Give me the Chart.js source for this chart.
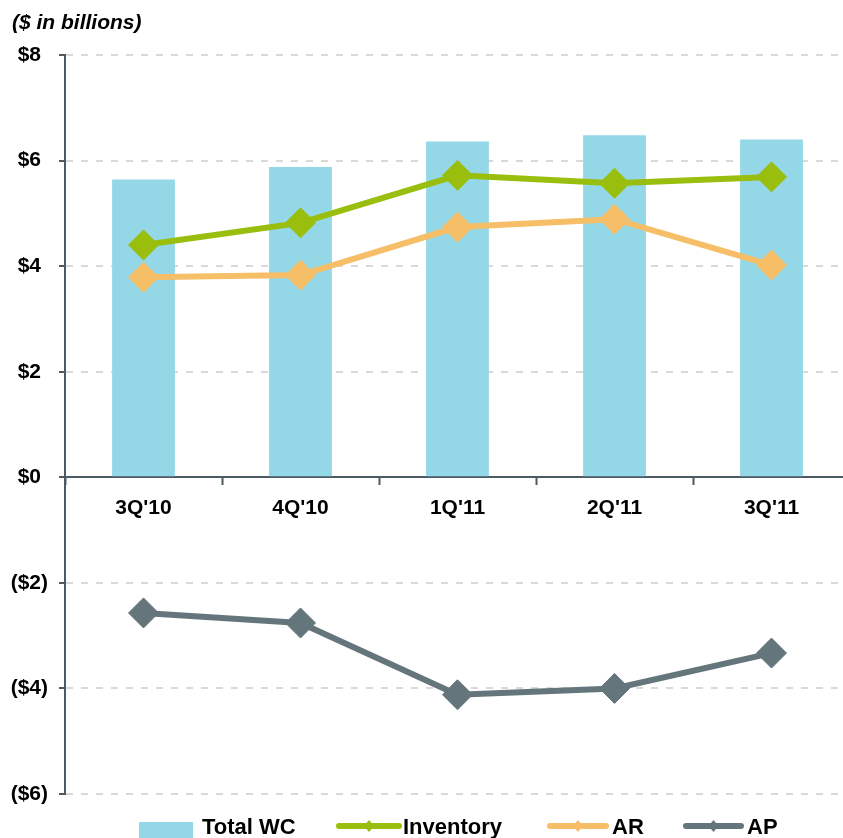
<!DOCTYPE html>
<html>
<head>
<meta charset="utf-8">
<script src="https://cdn.jsdelivr.net/npm/chart.js@4"></script>
<style>
html,body{margin:0;padding:0;overflow:hidden;background:#fff}
#wrap{position:relative;width:866px;height:838px}
</style>
</head>
<body>
<div id="wrap"><canvas id="c" width="866" height="838"></canvas></div>
<script>
const categories = ["3Q'10", "4Q'10", "1Q'11", "2Q'11", "3Q'11"];
const totalWC   = [5.64, 5.88, 6.36, 6.48, 6.40];
const inventory = [4.40, 4.82, 5.72, 5.57, 5.69];
const ar        = [3.79, 3.83, 4.74, 4.89, 4.02];
const ap        = [-2.57, -2.76, -4.12, -4.00, -3.33];
const yTicks    = [-6, -4, -2, 0, 2, 4, 6, 8];
const seriesNames = ['Total WC', 'Inventory', 'AR', 'AP'];
const chartTitle = '($ in billions)';

const C_BAR = '#94D8E8', C_INV = '#99BE0E', C_AR = '#F5BE67', C_AP = '#64757C';
const C_AXIS = '#4B5A63', C_GRID = '#D9D9D9';
const FONT = '"Liberation Sans", Arial, Helvetica, sans-serif';

function fmt(v) { return v < 0 ? '($' + (-v) + ')' : '$' + v; }

const overlay = {
  id: 'overlay',
  afterDraw(chart) {
    const ctx = chart.ctx;
    ctx.save();
    ctx.fillStyle = '#000';
    ctx.textAlign = 'left';
    ctx.textBaseline = 'alphabetic';
    ctx.font = 'italic bold 21px ' + FONT;
    ctx.fillText(chartTitle, 12, 29);

    const ty = 828, ly = 826;
    ctx.font = 'bold 22px ' + FONT;
    ctx.textBaseline = 'middle';
    ctx.fillStyle = C_BAR;
    ctx.fillRect(139, 822, 54, 16);
    ctx.fillStyle = '#000';
    ctx.fillText(seriesNames[0], 202, ty);
    const lineItems = [
      {x0: 339, x1: 399, tx: 403, c: C_INV, n: seriesNames[1]},
      {x0: 550, x1: 606, tx: 612, c: C_AR, n: seriesNames[2]},
      {x0: 686, x1: 741, tx: 747, c: C_AP, n: seriesNames[3]}
    ];
    for (const it of lineItems) {
      ctx.strokeStyle = it.c;
      ctx.lineWidth = 6;
      ctx.lineCap = 'round';
      ctx.beginPath();
      ctx.moveTo(it.x0, ly);
      ctx.lineTo(it.x1, ly);
      ctx.stroke();
      const cx = (it.x0 + it.x1) / 2;
      ctx.fillStyle = it.c;
      ctx.beginPath();
      ctx.moveTo(cx - 5, ly);
      ctx.lineTo(cx, ly - 6);
      ctx.lineTo(cx + 5, ly);
      ctx.lineTo(cx, ly + 6);
      ctx.closePath();
      ctx.fill();
      ctx.fillStyle = '#000';
      ctx.fillText(it.n, it.tx, ty);
    }
    ctx.restore();
  }
};

function lineDs(label, data, color, order) {
  return {
    type: 'line', label, data, order,
    borderColor: color, backgroundColor: color,
    borderWidth: 6, tension: 0, fill: false,
    pointStyle: 'rectRot', pointRadius: 15, pointHoverRadius: 15,
    pointBorderWidth: 1, pointBorderColor: color, pointBackgroundColor: color
  };
}

new Chart(document.getElementById('c'), {
  type: 'bar',
  data: {
    labels: categories,
    datasets: [
      { type: 'bar', label: seriesNames[0], data: totalWC, backgroundColor: C_BAR,
        barPercentage: 0.4, categoryPercentage: 1.0, order: 10 },
      lineDs(seriesNames[1], inventory, C_INV, 1),
      lineDs(seriesNames[2], ar, C_AR, 2),
      lineDs(seriesNames[3], ap, C_AP, 3)
    ]
  },
  options: {
    responsive: false,
    animation: false,
    devicePixelRatio: 1,
    layout: { padding: { top: 55, bottom: 44, left: 0, right: 0 } },
    plugins: { legend: { display: false }, title: { display: false }, tooltip: { enabled: false } },
    scales: {
      x: {
        position: { y: 0 },
        offset: true,
        grid: { offset: true, drawOnChartArea: false, drawTicks: true, tickLength: 7,
                tickColor: C_AXIS, tickWidth: 2 },
        border: { display: true, color: C_AXIS, width: 2 },
        ticks: { color: '#000', font: { family: FONT, size: 21, weight: 'bold' },
                 padding: 11, maxRotation: 0, autoSkip: false }
      },
      y: {
        min: -6, max: 8,
        afterBuildTicks: s => { s.ticks = yTicks.map(v => ({ value: v })); },
        afterFit: s => { s.width = 65; },
        grid: {
          color: c => (c.tick && c.tick.value === 0) ? 'rgba(0,0,0,0)' : C_GRID,
          lineWidth: 2, drawTicks: true, tickLength: 6, tickColor: C_AXIS, tickWidth: 2
        },
        border: { display: true, color: C_AXIS, width: 2, dash: [7, 8] },
        ticks: { color: '#000', font: { family: FONT, size: 21, weight: 'bold' },
                 padding: 11, crossAlign: 'center', callback: v => fmt(v) }
      }
    }
  },
  plugins: [overlay]
});
</script>
</body>
</html>
